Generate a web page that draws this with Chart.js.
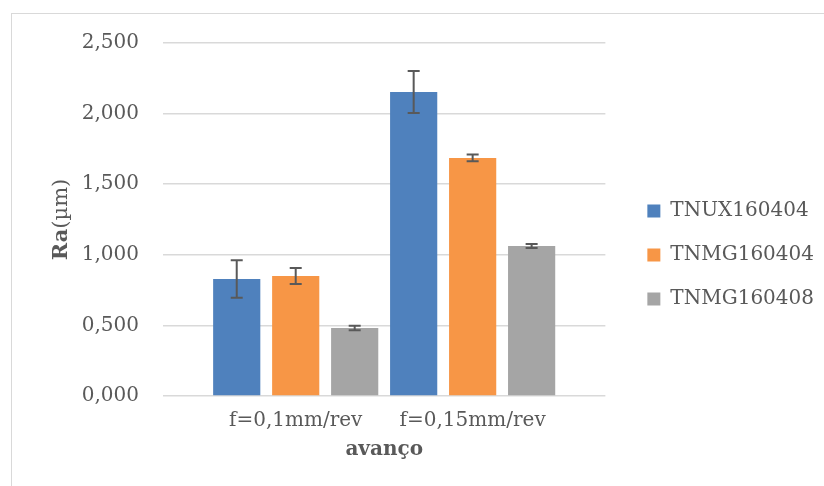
<!DOCTYPE html>
<html>
<head>
<meta charset="utf-8">
<script src="https://cdn.jsdelivr.net/npm/chart.js@4.4.1/dist/chart.umd.min.js"></script>
<style>
    html, body { margin: 0; padding: 0; background: #fff; overflow: hidden; }
    #frame {
        position: absolute; left: 11px; top: 13px;
        width: 900px; height: 600px;
        border: 1px solid #d9d9d9;
    }
    #wrap { position: absolute; left: 0; top: 0; width: 824px; height: 486px; }
</style>
</head>
<body>
<div id="frame"></div>
<div id="wrap"><canvas id="ra-chart" width="824" height="486"></canvas></div>
<script>
const categories = ["f=0,1mm/rev", "f=0,15mm/rev"];
const seriesNames = ["TNUX160404", "TNMG160404", "TNMG160408"];
const tnux160404 = [0.829, 2.153];
const tnux160404Err = [0.133, 0.149];
const tnmg160404 = [0.85, 1.686];
const tnmg160404Err = [0.056, 0.024];
const tnmg160408 = [0.482, 1.062];
const tnmg160408Err = [0.016, 0.014];
const yMin = 0;
const yMax = 2.5;
const yStep = 0.5;

const COLORS = ["#4f81bd", "#f79646", "#a5a5a5"];
const TEXT = "#595959";
const FONT = "'DejaVu Serif', serif";

const seriesValues = [tnux160404, tnmg160404, tnmg160408];
const seriesErrors = [tnux160404Err, tnmg160404Err, tnmg160408Err];

// categories sit at x = 1, 2 on a linear axis so the plot can run wider than the groups
const datasets = seriesNames.map((name, s) => ({
    label: name,
    data: categories.map((c, i) => ({ x: i + 1, y: seriesValues[s][i] })),
    errors: seriesErrors[s],
    backgroundColor: COLORS[s],
    categoryPercentage: 1.0,
    barPercentage: 0.8,
}));

const errorBars = {
    id: "errorBars",
    afterDatasetsDraw(chart) {
        const { ctx } = chart;
        const y = chart.scales.y;
        ctx.save();
        ctx.strokeStyle = TEXT;
        ctx.lineWidth = 2;
        chart.data.datasets.forEach((ds, s) => {
            chart.getDatasetMeta(s).data.forEach((bar, i) => {
                const v = ds.data[i].y, e = ds.errors[i];
                const top = y.getPixelForValue(v + e);
                const bot = y.getPixelForValue(v - e);
                ctx.beginPath();
                ctx.moveTo(bar.x, top); ctx.lineTo(bar.x, bot);
                ctx.moveTo(bar.x - 6, top); ctx.lineTo(bar.x + 6, top);
                ctx.moveTo(bar.x - 6, bot); ctx.lineTo(bar.x + 6, bot);
                ctx.stroke();
            });
        });
        ctx.restore();
    },
};

// "Ra" bold, "(µm)" regular, rotated
const yTitle = {
    id: "yTitle",
    afterDraw(chart) {
        const { ctx, chartArea } = chart;
        const bold = "bold 21px " + FONT, normal = "21px " + FONT;
        ctx.save();
        ctx.font = bold;
        const w1 = ctx.measureText("Ra").width;
        ctx.font = normal;
        const w2 = ctx.measureText("(µm)").width;
        ctx.translate(chartArea.left - 101, (chartArea.top + chartArea.bottom) / 2);
        ctx.rotate(-Math.PI / 2);
        ctx.fillStyle = TEXT;
        ctx.textBaseline = "middle";
        ctx.textAlign = "left";
        const start = -(w1 + w2) / 2;
        ctx.font = bold;
        ctx.fillText("Ra", start, 0);
        ctx.font = normal;
        ctx.fillText("(µm)", start + w1, 0);
        ctx.restore();
    },
};

// small gap between plot and legend
const legendGap = {
    id: "legendGap",
    afterLayout(chart) {
        chart.legend.left += 18;
        chart.legend.right += 18;
    },
};

new Chart(document.getElementById("ra-chart"), {
    type: "bar",
    data: { datasets },
    plugins: [errorBars, yTitle, legendGap],
    options: {
        responsive: false,
        animation: false,
        layout: { padding: { left: 0, right: 18, top: 43, bottom: 19 } },
        plugins: {
            legend: {
                position: "right",
                labels: {
                    boxWidth: 13,
                    boxHeight: 13,
                    padding: 24,
                    color: TEXT,
                    font: { family: FONT, size: 20 },
                },
            },
            tooltip: { enabled: false },
        },
        scales: {
            x: {
                type: "linear",
                offset: false,
                min: 0.25,
                max: categories.length + 0.75,
                afterBuildTicks: (s) => {
                    s.ticks = categories.map((c, i) => ({ value: i + 1 }));
                },
                afterFit: (s) => { s.height = 71; },
                grid: { display: false, drawTicks: false, offset: false },
                border: { display: false },
                ticks: {
                    padding: 13,
                    color: TEXT,
                    font: { family: FONT, size: 20 },
                    callback: (v) => categories[v - 1],
                },
                title: {
                    display: true,
                    text: "avanço",
                    color: TEXT,
                    font: { family: FONT, size: 20, weight: "bold" },
                    padding: { top: 0, bottom: 5 },
                },
            },
            y: {
                min: yMin,
                max: yMax,
                afterFit: (s) => { s.width = 163; },
                grid: { color: "#d9d9d9", lineWidth: 1.5, drawTicks: false },
                border: { display: false },
                ticks: {
                    stepSize: yStep,
                    padding: 24,
                    color: TEXT,
                    font: { family: FONT, size: 20 },
                    callback: (v) => v.toFixed(3).replace(".", ","),
                },
            },
        },
    },
});
</script>
</body>
</html>
